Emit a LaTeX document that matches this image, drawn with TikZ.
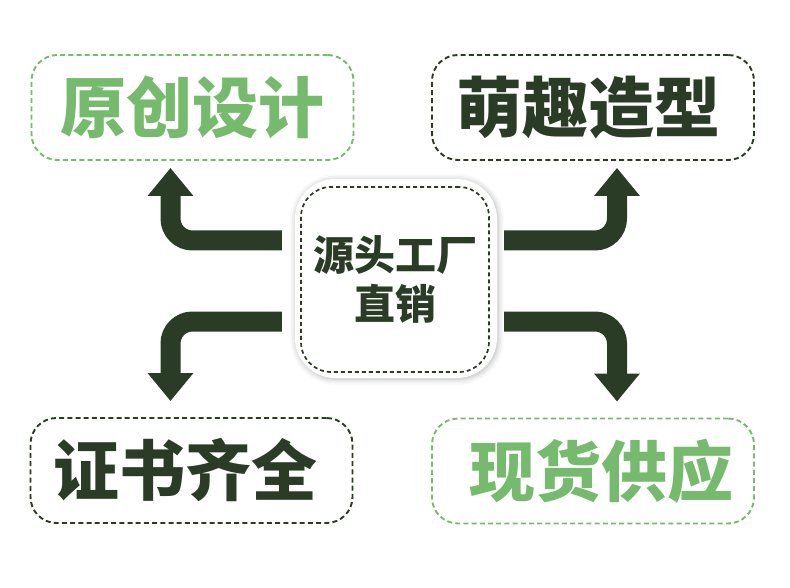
\documentclass[tikz,border=0pt]{standalone}
\usepackage{fontspec}
\newfontfamily\cjk{Noto Sans CJK SC Black}
\usetikzlibrary{arrows.meta, positioning, shadows.blur}
\definecolor{cdark}{HTML}{2A3C26}
\definecolor{cleaf}{HTML}{76BA6E}

\begin{document}
\begin{tikzpicture}[x=1pt, y=-1pt,
  tag/.style={draw, dash pattern=on 5pt off 3.2pt, line width=1.9pt, rounded corners=26pt,
              minimum width=322pt, minimum height=105pt, inner sep=0pt,
              font=\cjk\fontsize{66}{66}\selectfont},
  leaf/.style={tag, draw=cleaf, text=cleaf},
  bark/.style={tag, draw=cdark, text=cdark},
  hub/.style={fill=white, rounded corners=40pt, minimum width=202pt, minimum height=199pt,
              blur shadow={shadow xshift=1pt, shadow yshift=-1pt, shadow blur radius=6pt, shadow opacity=30}},
  hubline/.style={draw=cdark, dash pattern=on 4pt off 3pt, line width=1.7pt, rounded corners=30pt,
              minimum width=188pt, minimum height=185pt, text=cdark, align=center,
              font=\cjk\fontsize{41}{49}\selectfont},
  flow/.style={-{Triangle[length=28pt, width=44pt]}, line width=20pt, draw=cdark, rounded corners=22pt}
]
\useasboundingbox (0,0) rectangle (790,588);
\node[leaf] (yuan)  at (192.5,107.5) {原创设计};
\node[bark] (meng)  at (593,107.5)   {萌趣造型\hspace*{9pt}};
\node[bark] (zheng) at (191.5,470.5) {证书齐全\hspace*{13pt}};
\node[leaf] (xian)  at (593,471)     {\hspace*{16pt}现货供应};
\node[hub] (hub) at (396,278.5) {};
\node[hubline] (hubin) at (395,279.5) {源头工厂\\直销};
\draw[flow] ([xshift=-13pt, yshift=38pt]hub.west)  -| ([xshift=-22pt, yshift=-7pt]yuan.south);
\draw[flow] ([xshift=-13pt, yshift=-43pt]hub.west) -| ([xshift=-21pt, yshift=16pt]zheng.north);
\draw[flow] ([xshift=7pt, yshift=38pt]hub.east)    -| ([xshift=24pt, yshift=-7pt]meng.south);
\draw[flow] ([xshift=7pt, yshift=-43pt]hub.east)   -| ([xshift=24pt, yshift=16pt]xian.north);
\end{tikzpicture}
\end{document}
